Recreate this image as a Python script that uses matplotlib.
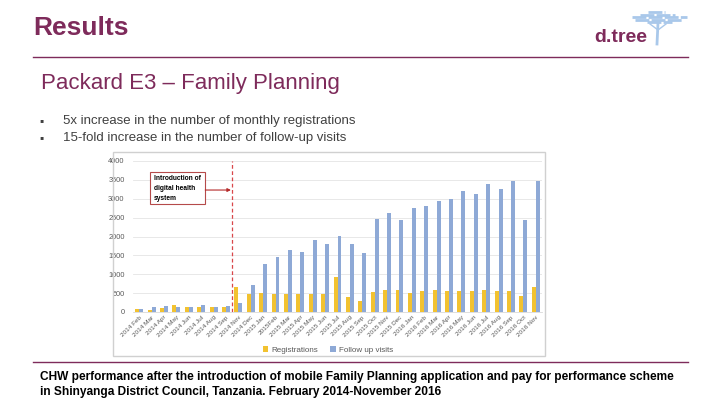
import numpy as np
import matplotlib.pyplot as plt
from matplotlib.patches import Rectangle
from matplotlib.lines import Line2D

plt.rcParams['font.family'] = ['Liberation Sans', 'DejaVu Sans']

# monthly data, Feb 2014 - Nov 2016 (no Oct 2014 in source)
months = ['2014 Feb', '2014 Mar', '2014 Apr', '2014 May', '2014 Jun', '2014 Jul',
          '2014 Aug', '2014 Sep', '2014 Nov', '2014 Dec', '2015 Jan', '2015Feb',
          '2015 Mar', '2015 Apr', '2015 May', '2015 Jun', '2015 Jul', '2015 Aug',
          '2015 Sep', '2015 Oct', '2015 Nov', '2015 Dec', '2016 Jan', '2016 Feb',
          '2016 Mar', '2016 Apr', '2016 May', '2016 Jun', '2016 Jul', '2016 Aug',
          '2016 Sep', '2016 Oct', '2016 Nov']
registrations = [80, 60, 115, 195, 130, 130, 130, 130, 650, 490, 510, 490,
                 465, 465, 490, 465, 935, 390, 300, 530, 590, 590, 500, 545,
                 590, 545, 565, 545, 590, 565, 565, 415, 670]
follow_up = [80, 130, 150, 130, 130, 195, 130, 150, 250, 720, 1260, 1445,
             1650, 1580, 1895, 1800, 2020, 1810, 1570, 2470, 2610, 2450, 2750, 2810,
             2940, 2985, 3205, 3130, 3400, 3260, 3480, 2430, 3480]
yticks = [0, 500, 1000, 1500, 2000, 2500, 3000, 3500, 4000]

purple = '#7e2b5b'
gold = '#f2c230'
blue = '#8ea9d6'
sky = '#a9c8ea'

W, H = 720, 405
fig = plt.figure(figsize=(7.2, 4.05), dpi=100)


def fx(x):
    return x / W


def fy(y):
    return 1 - y / H


def fline(x0, y0, x1, y1, **kw):
    fig.add_artist(Line2D([fx(x0), fx(x1)], [fy(y0), fy(y1)], **kw))


# slide header
fig.text(fx(33), fy(28), 'Results', color=purple, fontsize=19, fontweight='bold', va='center')
fline(33, 57, 688, 57, color=purple, lw=1)
fig.text(fx(41), fy(83), 'Packard E3 \u2013 Family Planning', color=purple, fontsize=16, va='center')
for yy, txt in [(121, '5x increase in the number of monthly registrations'),
                (138, '15-fold increase in the number of follow-up visits')]:
    fig.text(fx(39), fy(yy), '\u25aa', color='#404040', fontsize=8.5, va='center')
    fig.text(fx(63), fy(yy), txt, color='#404040', fontsize=9.5, va='center')

# logo
fig.text(fx(594), fy(38), 'd.tree', color=purple, fontsize=14, fontweight='bold', va='center')
for x0, x1, yy in [(648, 665, 12), (640, 675, 14.5), (632, 687, 17), (635, 682, 19.5), (647, 672, 22)]:
    fline(x0, yy, x1, yy, color=sky, lw=2, dashes=(5, 0.8))
fline(658, 23, 657, 44, color=sky, lw=2)
fline(658, 30, 650, 24, color=sky, lw=1)
fline(658, 30, 666, 24, color=sky, lw=1)

# embedded chart frame
fig.add_artist(Rectangle((fx(113), fy(356)), (545 - 113) / W, (356 - 152) / H,
                         transform=fig.transFigure, fill=False, edgecolor='#d0d0d0', lw=1))

ax = fig.add_axes([fx(133), fy(312), (542 - 133) / W, (312 - 161) / H])
x = np.arange(len(months))
bw = 0.32
ax.bar(x - bw / 2, registrations, bw, color=gold, label='Registrations')
ax.bar(x + bw / 2, follow_up, bw, color=blue, label='Follow up visits')
ax.set_xlim(-0.5, len(months) - 0.5)
ax.set_ylim(0, 4000)
ax.set_yticks(yticks)
ax.set_yticklabels([str(v) for v in yticks])
ax.set_xticks(x)
ax.set_xticklabels(months, rotation=45, ha='right', rotation_mode='anchor')
ax.tick_params(axis='y', labelsize=5.3, colors='#595959', length=0, pad=6)
ax.tick_params(axis='x', labelsize=4.6, colors='#595959', length=0, pad=2)
ax.grid(axis='y', color='#e4e4e4', lw=0.6)
ax.set_axisbelow(True)
for s in ['top', 'right', 'left']:
    ax.spines[s].set_visible(False)
ax.spines['bottom'].set_color('#d9d9d9')
ax.spines['bottom'].set_linewidth(0.6)

# intervention marker
ax.axvline(7.45, color='#d9474a', ls=(0, (3, 2)), lw=0.9)
ax.add_patch(Rectangle((0.89, 2863), 4.44, 846, fc='white', ec='#b54a4a', lw=0.8, zorder=3))
ax.text(1.2, 3620, 'Introduction of\ndigital health\nsystem', fontsize=4.8, fontweight='bold',
        va='top', ha='left', linespacing=1.6, zorder=4)
ax.annotate('', xy=(7.4, 3231), xytext=(5.33, 3231),
            arrowprops=dict(arrowstyle='-|>', color='#b52a2a', lw=0.8, mutation_scale=5,
                            shrinkA=0, shrinkB=0))

fig.legend(loc='center', bbox_to_anchor=(fx(328), fy(350)), ncol=2, frameon=False,
           fontsize=5.8, labelcolor='#595959', handlelength=0.7, handleheight=0.7,
           handletextpad=0.4, columnspacing=1.5)

# caption
fline(33, 362, 688, 362, color=purple, lw=1)
fig.text(fx(40), fy(377), 'CHW performance after the introduction of mobile Family Planning '
         'application and pay for performance scheme', fontsize=8.6, fontweight='bold', va='center')
fig.text(fx(40), fy(392), 'in Shinyanga District Council, Tanzania. February 2014-November 2016',
         fontsize=8.6, fontweight='bold', va='center')

fig.savefig('out.png', dpi=100)
